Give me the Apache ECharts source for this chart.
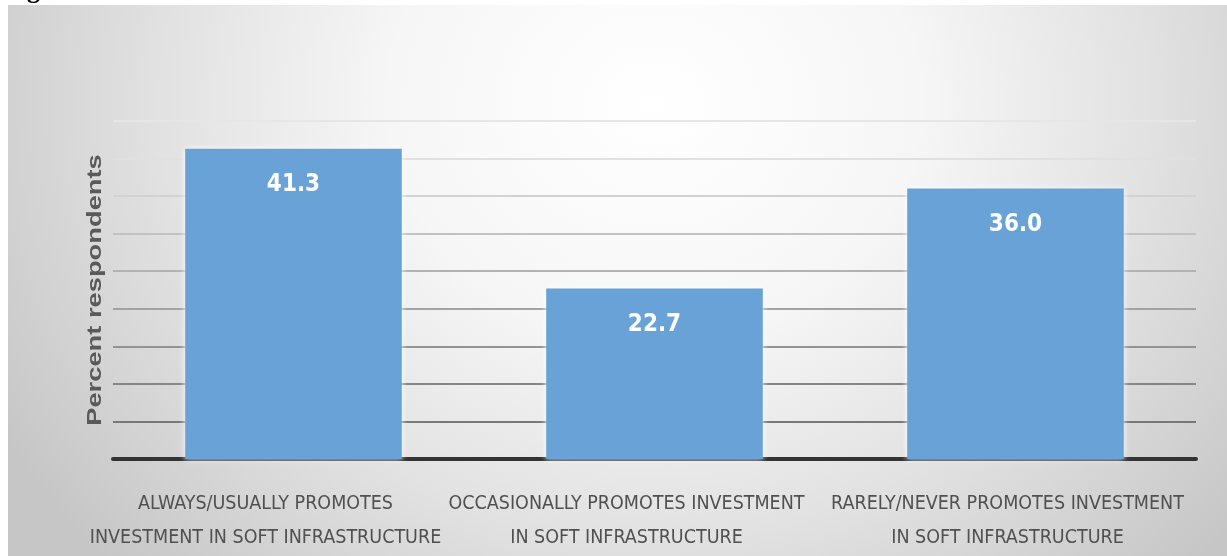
<!DOCTYPE html>
<html>
<head>
<meta charset="utf-8">
<script src="https://cdn.jsdelivr.net/npm/echarts@6/dist/echarts.min.js"></script>
<style>
  html, body { margin: 0; padding: 0; background: #ffffff; }
  #wrap { position: relative; width: 1227px; height: 556px; overflow: hidden; }
  #panel {
    position: absolute; left: 8px; top: 5px; right: 0; bottom: 0;
    background: radial-gradient(ellipse 62% 120% at 53% 18%, #ffffff 0%, #f6f6f6 35%, #e2e2e2 65%, #c6c6c6 100%);
  }
  #chart { position: absolute; left: 0; top: 0; width: 1227px; height: 556px; }
</style>
</head>
<body>
<div id="wrap">
  <div id="panel"></div>
  <div id="chart"></div>
</div>
<script>
// Survey responses: how often the organisation promotes investment in soft infrastructure
const categories = [
  'ALWAYS/USUALLY PROMOTES\nINVESTMENT IN SOFT INFRASTRUCTURE',
  'OCCASIONALLY PROMOTES INVESTMENT\nIN SOFT INFRASTRUCTURE',
  'RARELY/NEVER PROMOTES INVESTMENT\nIN SOFT INFRASTRUCTURE'
];
const percentRespondents = [41.3, 22.7, 36.0];
const axisTitle = 'Percent respondents';

// gridline shades, from the baseline upward (darker low, fading toward the top)
const gridShades = ['#6c6c6c', '#787878', '#858585', '#939393', '#a2a2a2', '#b2b2b2', '#c2c2c2', '#d2d2d2', '#e0e0e0', '#e6e6e6'];

const labelFont = "'DejaVu Sans Condensed', 'Liberation Sans Narrow', Roboto, sans-serif";

const chart = echarts.init(document.getElementById('chart'), null, { renderer: 'canvas' });

chart.setOption({
  backgroundColor: 'transparent',
  animation: false,
  grid: { left: 113, right: 31, top: 121, bottom: 97, containLabel: false },
  xAxis: {
    type: 'category',
    data: categories,
    axisLine: { show: true, lineStyle: { color: '#333333', width: 4 } },
    axisTick: { show: false },
    axisLabel: {
      interval: 0,
      margin: 28,
      formatter: function (value, idx) {
        const key = idx === 2 ? 'c' : 'a';
        return value.split('\n').map(function (l) { return '{' + key + '|' + l + '}'; }).join('\n');
      },
      rich: {
        a: { fontFamily: labelFont, fontSize: 19.5, color: '#505050', lineHeight: 34, padding: [0, 56, 0, 0] },
        c: { fontFamily: labelFont, fontSize: 19.5, color: '#505050', lineHeight: 34, padding: [0, 16, 0, 0] }
      }
    }
  },
  yAxis: {
    type: 'value',
    min: 0,
    max: 45,
    interval: 5,
    axisLine: { show: false },
    axisTick: { show: false },
    axisLabel: { show: false },
    splitLine: { show: true, lineStyle: { color: gridShades, width: 1.8 } }
  },
  series: [{
    type: 'bar',
    data: percentRespondents,
    barWidth: '60%',
    itemStyle: {
      color: '#68a2d7',
      shadowColor: 'rgba(255,255,255,0.9)',
      shadowBlur: 6
    },
    label: {
      show: true,
      position: 'insideTop',
      distance: 24,
      formatter: function (p) { return p.value.toFixed(1); },
      color: '#ffffff',
      fontFamily: labelFont,
      fontWeight: 'bold',
      fontSize: 24
    }
  }],
  graphic: [
    {
      type: 'text',
      x: 95,
      y: 290,
      rotation: Math.PI / 2,
      scaleX: 1.3,
      style: {
        text: axisTitle,
        fill: '#5a5a5a',
        font: "bold 21px 'Liberation Sans', Arial, sans-serif",
        align: 'center',
        verticalAlign: 'middle'
      },
      z: 10
    },
    {
      type: 'text',
      left: 4,
      top: -22,
      style: {
        text: 'Figure',
        fill: '#000000',
        font: "bold 26px 'Liberation Serif', serif"
      },
      z: 10
    }
  ]
});
</script>
</body>
</html>
